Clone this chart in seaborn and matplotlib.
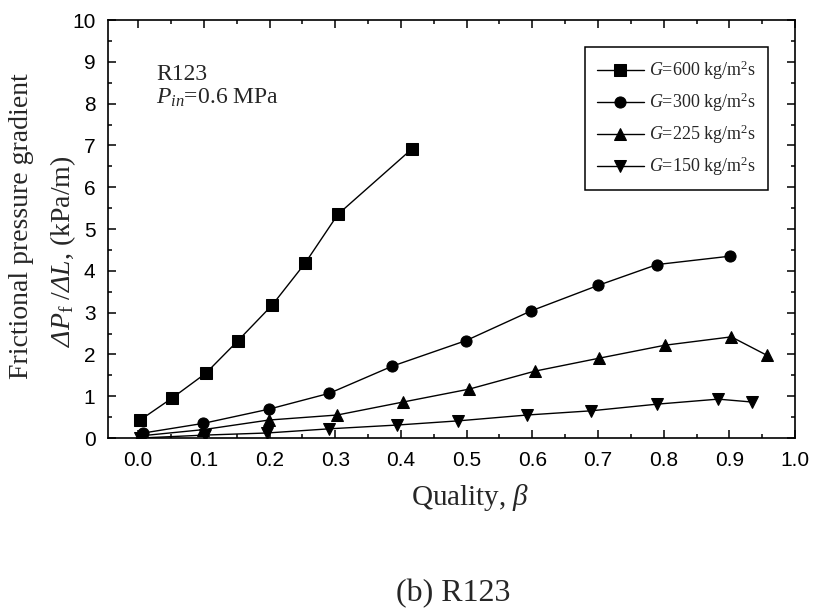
import numpy as np
import pandas as pd
import matplotlib
matplotlib.use("Agg")
import matplotlib.pyplot as plt
from matplotlib.ticker import MultipleLocator
import seaborn as sns

# Measured frictional pressure gradient vs. vapour quality, R123 at 0.6 MPa
x_600 = [0.003, 0.052, 0.103, 0.152, 0.204, 0.254, 0.304, 0.417]
y_600 = [0.43, 0.96, 1.55, 2.33, 3.18, 4.18, 5.35, 6.92]

x_300 = [0.008, 0.099, 0.199, 0.291, 0.387, 0.499, 0.598, 0.700, 0.790, 0.901]
y_300 = [0.12, 0.35, 0.69, 1.07, 1.72, 2.33, 3.04, 3.65, 4.15, 4.35]

x_225 = [0.003, 0.099, 0.199, 0.303, 0.403, 0.504, 0.604, 0.702, 0.802, 0.903, 0.957]
y_225 = [0.05, 0.20, 0.43, 0.55, 0.86, 1.17, 1.60, 1.91, 2.22, 2.42, 1.98]

x_150 = [0.003, 0.102, 0.196, 0.291, 0.394, 0.487, 0.592, 0.689, 0.790, 0.883, 0.935]
y_150 = [0.0, 0.07, 0.12, 0.22, 0.31, 0.41, 0.55, 0.65, 0.81, 0.93, 0.86]

labels = [r"$G$=600 kg/m$^2$s", r"$G$=300 kg/m$^2$s",
          r"$G$=225 kg/m$^2$s", r"$G$=150 kg/m$^2$s"]
markers = ["s", "o", "^", "v"]
series = [(x_600, y_600), (x_300, y_300), (x_225, y_225), (x_150, y_150)]

x_ticks = [0.0, 0.1, 0.2, 0.3, 0.4, 0.5, 0.6, 0.7, 0.8, 0.9, 1.0]
y_ticks = [0, 1, 2, 3, 4, 5, 6, 7, 8, 9, 10]

sns.set_theme(style="ticks")
plt.rcParams["font.family"] = ["Liberation Serif", "DejaVu Serif"]
plt.rcParams["mathtext.fontset"] = "custom"
plt.rcParams["mathtext.rm"] = "Liberation Serif"
plt.rcParams["mathtext.it"] = "Liberation Serif:italic"
plt.rcParams["mathtext.bf"] = "Liberation Serif:bold"
# italic face reachable for upper-case Greek (mathtext keeps \mathit Greek capitals upright)
plt.rcParams["mathtext.sf"] = "Liberation Serif:italic"

fig = plt.figure(figsize=(8.15, 6.12), dpi=100)
ax = fig.add_axes([0.1325, 0.2843, 0.843, 0.683])

for (xs, ys), lab, mk in zip(series, labels, markers):
    df = pd.DataFrame({"quality": xs, "dpdl": ys})
    sns.lineplot(data=df, x="quality", y="dpdl", ax=ax, color="black",
                 marker=mk, markersize=9 if mk in "^v" else 8,
                 markeredgecolor="black", linewidth=1.0, label=lab,
                 sort=False)

ax.set_xlim(-0.046, 1.0)
ax.set_ylim(0, 10)
ax.xaxis.set_minor_locator(MultipleLocator(0.05))
ax.yaxis.set_minor_locator(MultipleLocator(0.5))
ax.set_xticks(x_ticks)
ax.set_xticklabels([f"{v:.1f}" for v in x_ticks])
ax.set_yticks(y_ticks)
ax.set_yticklabels([str(v) for v in y_ticks])

ax.tick_params(which="both", direction="in", top=True, right=True,
               width=1.1, colors="black")
ax.tick_params(which="major", length=6)
ax.tick_params(which="minor", length=3)
for lbl in ax.get_xticklabels() + ax.get_yticklabels():
    lbl.set_fontfamily("Liberation Sans")
    lbl.set_fontsize(15)
ax.tick_params(axis="x", pad=9)
ax.tick_params(axis="y", pad=9)
for sp in ax.spines.values():
    sp.set_linewidth(1.2)
    sp.set_color("black")

ax.set_xlabel(r"Quality, $\beta$", fontsize=21)
ax.xaxis.set_label_coords(0.527, -0.105)

ax.set_ylabel("Frictional pressure gradient", fontsize=20)
ax.yaxis.set_label_coords(-0.108, 0.507)
ax.text(-0.066, 0.447,
        r"$\mathsf{\Delta}\mathit{P}_{\mathrm{f}}\ /\mathsf{\Delta}\mathit{L}$, (kPa/m)",
        transform=ax.transAxes, rotation=90, ha="center", va="center",
        fontsize=20)

ax.text(0.07, 0.856, "R123", transform=ax.transAxes, fontsize=17)
ax.text(0.07, 0.80, r"$P_{in}$=0.6 MPa", transform=ax.transAxes, fontsize=17)

leg = ax.legend(loc="upper right", fontsize=13, frameon=True, fancybox=False,
                edgecolor="black", framealpha=1, handlelength=2.6,
                handletextpad=0.3, labelspacing=0.47, borderpad=0.65,
                borderaxespad=1.5)
leg.get_frame().set_linewidth(1.1)

fig.text(0.556, 0.017, "(b) R123", ha="center", va="baseline", fontsize=23)

fig.savefig("out.png", dpi=100)
